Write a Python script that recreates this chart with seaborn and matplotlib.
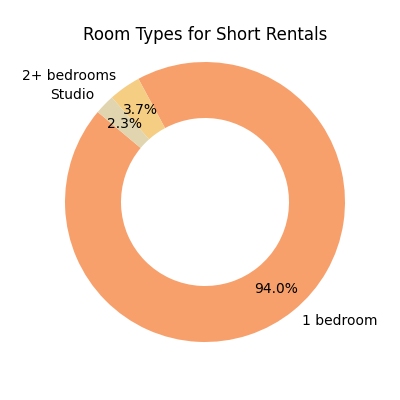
import matplotlib
matplotlib.use('Agg')
import matplotlib.pyplot as plt
import seaborn as sb

# Room type shares
room_types = ['1 bedroom', '2+ bedrooms', 'Studio']
shares = [94.0, 3.7, 2.3]

colors = sb.color_palette(['#F7A06B', '#F5CD83', '#E0D5AF'])

fig, ax = plt.subplots(figsize=(4, 4), dpi=100)
ax.pie(shares, labels=room_types, colors=colors, autopct='%1.1f%%',
       startangle=140, pctdistance=0.8, labeldistance=1.1,
       wedgeprops=dict(width=0.4))
ax.set_xlim(-1.1, 1.1)
ax.set_ylim(-1.1, 1.1)
ax.set_aspect('equal')
ax.set_title('Room Types for Short Rentals')

fig.savefig('out.png', dpi=100)
